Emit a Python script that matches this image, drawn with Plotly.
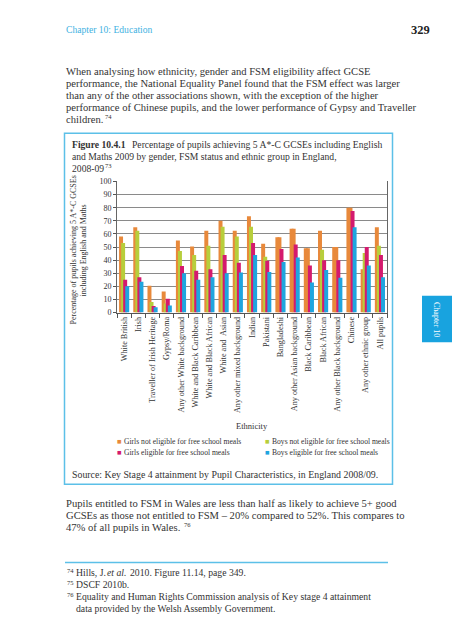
import plotly.graph_objects as go

categories = ["White British", "Irish", "Traveller of Irish Heritage", "Gypsy/Roma",
              "Any other White background", "White and Black Caribbean",
              "White and Black African", "White and  Asian", "Any other mixed background",
              "Indian", "Pakistani", "Bangladeshi", "Any other Asian background",
              "Black Caribbean", "Black African", "Any other Black background",
              "Chinese", "Any other ethnic group", "All pupils"]

girls_not_fsm = [58, 65, 20.5, 16, 55, 50.5, 62.5, 70, 62.5, 73.5, 52.5, 57.5, 64, 49, 62.5, 50, 80, 33, 65]
boys_not_fsm = [53, 62.5, 8, 7, 47, 44, 51, 65.5, 58, 65.5, 42.5, 57.5, 64, 49, 48, 50, 80, 45.5, 51]
girls_fsm = [25, 27, 5, 10.5, 35.5, 32, 33, 44, 38, 53, 39.5, 48.5, 52, 36, 40, 40, 77.5, 50, 44]
boys_fsm = [20, 23.5, 4, 5.5, 30, 25, 27, 30, 30.5, 44, 31, 38.5, 42, 23, 32.5, 26.5, 65, 36, 27]
# groups where the boys-not-FSM bar is drawn in the orange shade in the source chart
boys_not_fsm_shown_orange = [False, False, False, False, False, False, False, False, False,
                             False, False, True, True, True, False, True, True, False, False]

series_names = ["Girls not eligible for free school meals", "Boys not eligible for free school meals",
                "Girls eligible for free school meals", "Boys eligible for free school meals"]
series_colors = ["#e8893b", "#b7ce3c", "#d41a6e", "#1fa5df"]

W, H = 452, 640
FONT = "Liberation Serif"
TXT = "#333333"
BLUE_LINE = "#5cc0e8"


def px(x):
    return x / W


def py(y):
    return 1 - y / H


fig = go.Figure()
values = [girls_not_fsm, boys_not_fsm, girls_fsm, boys_fsm]
bw = 0.28
step = 0.145
for i, (name, vals, col) in enumerate(zip(series_names, values, series_colors)):
    colors = col
    if i == 1:
        colors = [series_colors[0] if o else col for o in boys_not_fsm_shown_orange]
    fig.add_trace(go.Bar(
        x=categories, y=vals, name=name,
        marker=dict(color=colors, line=dict(width=0)),
        width=bw, offset=-0.355 + i * step,
        showlegend=False,
    ))

ann = []


def text(x, y, s, size=10, anchor="left", color=TXT, angle=0, weight="normal", style="normal"):
    ann.append(dict(x=px(x), y=py(y), xref="paper", yref="paper", text=s,
                    showarrow=False, xanchor=anchor, yanchor="middle", textangle=angle,
                    borderpad=0,
                    font=dict(family=FONT, size=size, color=color, weight=weight, style=style)))


text(65, 26, "Chapter 10: Education", 9.6, color="#42b2e2")
text(431, 26, "329", 12.5, anchor="right", color="#222222", weight="bold")

para1 = ["When analysing how ethnicity, gender and FSM eligibility affect GCSE",
         "performance, the National Equality Panel found that the FSM effect was larger",
         "than any of the other associations shown, with the exception of the higher",
         "performance of Chinese pupils, and the lower performance of Gypsy and Traveller",
         "children."]
for k, line in enumerate(para1):
    text(65, 68.5 + k * 12.25, line, 10.6)
text(103.5, 114, "74", 6.5)

text(71, 142, "Figure 10.4.1", 9.65, weight="bold")
title_lines = ["Percentage of pupils achieving 5 A*-C GCSEs including English",
               "and Maths 2009 by gender, FSM status and ethnic group in England,",
               "2008-09"]
text(131, 142, title_lines[0], 9.65)
text(71, 154.3, title_lines[1], 9.65)
text(71, 166.6, title_lines[2], 9.65)
text(104, 163.5, "73", 6.5)

text(73, 250, "Percentage of pupils achieving 5 A*-C GCSEs", 8, anchor="center", angle=-90)
text(83, 250, "including English and Maths", 8, anchor="center", angle=-90)
text(252, 428, "Ethnicity", 8.5, anchor="center")

leg_pos = [(116, 444), (264, 444), (116, 455), (264, 455)]
for (lx, ly), name, col in zip(leg_pos, series_names, series_colors):
    text(lx, ly, "■", 7.5, color=col)
    text(lx + 7, ly, name, 7.6)

text(71, 477, "Source: Key Stage 4 attainment by Pupil Characteristics, in England 2008/09.", 9.85)

para2 = ["Pupils entitled to FSM in Wales are less than half as likely to achieve 5+ good",
         "GCSEs as those not entitled to FSM – 20% compared to 52%. This compares to",
         "47% of all pupils in Wales."]
for k, line in enumerate(para2):
    text(65, 507 + k * 12.2, line, 10.6)
text(183, 528, "76", 6.5)

text(66, 575, "74", 6.5)
text(75, 577, "Hills, J.", 9.7)
text(106, 577, "et al.", 9.7, style="italic")
text(129, 577, "2010. Figure 11.14, page 349.", 9.7)
text(66, 587, "75", 6.5)
text(75, 589, "DSCF 2010b.", 9.7)
text(66, 599, "76", 6.5)
text(75, 601, "Equality and Human Rights Commission analysis of Key stage 4 attainment", 9.7)
text(75, 613, "data provided by the Welsh Assembly Government.", 9.7)

text(437, 319.5, "Chapter 10", 8, anchor="center", color="white", angle=90)

shapes = [
    dict(type="rect", xref="paper", yref="paper", x0=px(64.5), x1=px(392.5), y0=py(487), y1=py(131),
         line=dict(color=BLUE_LINE, width=1.5), fillcolor="rgba(0,0,0,0)", layer="below"),
    dict(type="line", xref="paper", yref="paper", x0=px(65), x1=px(388), y0=py(566.5), y1=py(566.5),
         line=dict(color=BLUE_LINE, width=1.5)),
    dict(type="rect", xref="paper", yref="paper", x0=px(422), x1=px(452), y0=py(343), y1=py(296),
         line=dict(width=0), fillcolor="#18a3df"),
]

fig.update_layout(
    width=W, height=H,
    margin=dict(l=0, r=0, t=0, b=0),
    paper_bgcolor="white", plot_bgcolor="white",
    barmode="overlay",
    showlegend=False,
    annotations=ann, shapes=shapes,
    font=dict(family=FONT, color=TXT),
    xaxis=dict(domain=[px(117), px(387)], type="category", tickangle=-90,
               tickson="boundaries", ticks="outside", ticklen=4, tickcolor="#555",
               showline=True, linecolor="#555", linewidth=1, showgrid=False,
               tickfont=dict(family=FONT, size=8.2, color=TXT), anchor="y"),
    yaxis=dict(domain=[py(313), py(180)], range=[0, 100], dtick=10,
               showgrid=True, gridcolor="#8a8a8a", gridwidth=1.3,
               showline=True, mirror=True, linecolor="#666", linewidth=1,
               ticks="outside", ticklen=3, tickcolor="#555",
               tickfont=dict(family=FONT, size=8, color=TXT), zeroline=False),
)

fig.write_html("out.html", config={"displayModeBar": False},
               post_script="document.body.style.margin='0';document.body.style.overflow='hidden';")
